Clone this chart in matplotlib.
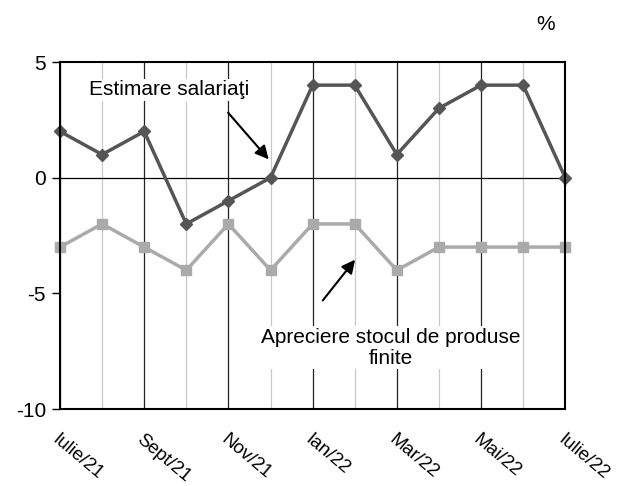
import matplotlib.pyplot as plt
import numpy as np

plt.rcParams['font.family'] = ['Liberation Sans', 'DejaVu Sans']

# monthly data Iulie/21 .. Iulie/22
months = ['Iulie/21', 'Aug/21', 'Sept/21', 'Oct/21', 'Nov/21', 'Dec/21', 'Ian/22',
          'Feb/22', 'Mar/22', 'Apr/22', 'Mai/22', 'Iun/22', 'Iulie/22']
salariati = [2, 1, 2, -2, -1, 0, 4, 4, 1, 3, 4, 4, 0]
stoc = [-3, -2, -3, -4, -2, -4, -2, -2, -4, -3, -3, -3, -3]

x = np.arange(len(months))

fig = plt.figure(figsize=(6.23, 4.86), dpi=100)
ax = fig.add_axes([0.0963, 0.1584, 0.811, 0.714])

# vertical grid: dark on even months, light on odd months
for i in x:
    if i % 2 == 0:
        ax.axvline(i, color='#222222', lw=0.9, zorder=1)
    else:
        ax.axvline(i, color='#c8c8c8', lw=0.9, zorder=1)
ax.axhline(0, color='black', lw=0.9, zorder=1)

ax.plot(x, stoc, color='#aaaaaa', lw=2.5, marker='s', ms=7.5, zorder=3, clip_on=False)
ax.plot(x, salariati, color='#555555', lw=2.5, marker='D', ms=6.5, zorder=4, clip_on=False)

ax.set_xlim(0, 12)
ax.set_ylim(-10, 5)
ax.set_yticks([5, 0, -5, -10])
ax.set_yticklabels(['5', '0', '-5', '-10'], fontsize=15)
ax.set_xticks(x[::2])
ax.set_xticklabels(months[::2], rotation=-40, ha='left', va='top',
                   rotation_mode='anchor', fontsize=13.5)
ax.tick_params(axis='x', length=0, pad=16)
ax.tick_params(axis='y', length=6, width=1, direction='out', pad=4)
for s in ax.spines.values():
    s.set_linewidth(1.5)
    s.set_zorder(5)

bbox = dict(facecolor='white', edgecolor='none', pad=1)
ax.text(2.6, 3.8, 'Estimare salariaţi', fontsize=15, ha='center', va='center',
        bbox=bbox, zorder=2)
ax.annotate('', xy=(5.0, 0.7), xytext=(3.95, 2.9),
            arrowprops=dict(arrowstyle='-|>', color='black', lw=1.5,
                            mutation_scale=20), zorder=6)
ax.annotate('', xy=(7.05, -3.45), xytext=(6.2, -5.4),
            arrowprops=dict(arrowstyle='-|>', color='black', lw=1.5,
                            mutation_scale=20), zorder=6)
ax.text(7.85, -7.35, 'Apreciere stocul de produse\nfinite', fontsize=15,
        ha='center', va='center', linespacing=1.15, bbox=bbox, zorder=2)

fig.text(0.875, 0.95, '%', fontsize=15, ha='center', va='center')

fig.savefig('out.png', dpi=100)
